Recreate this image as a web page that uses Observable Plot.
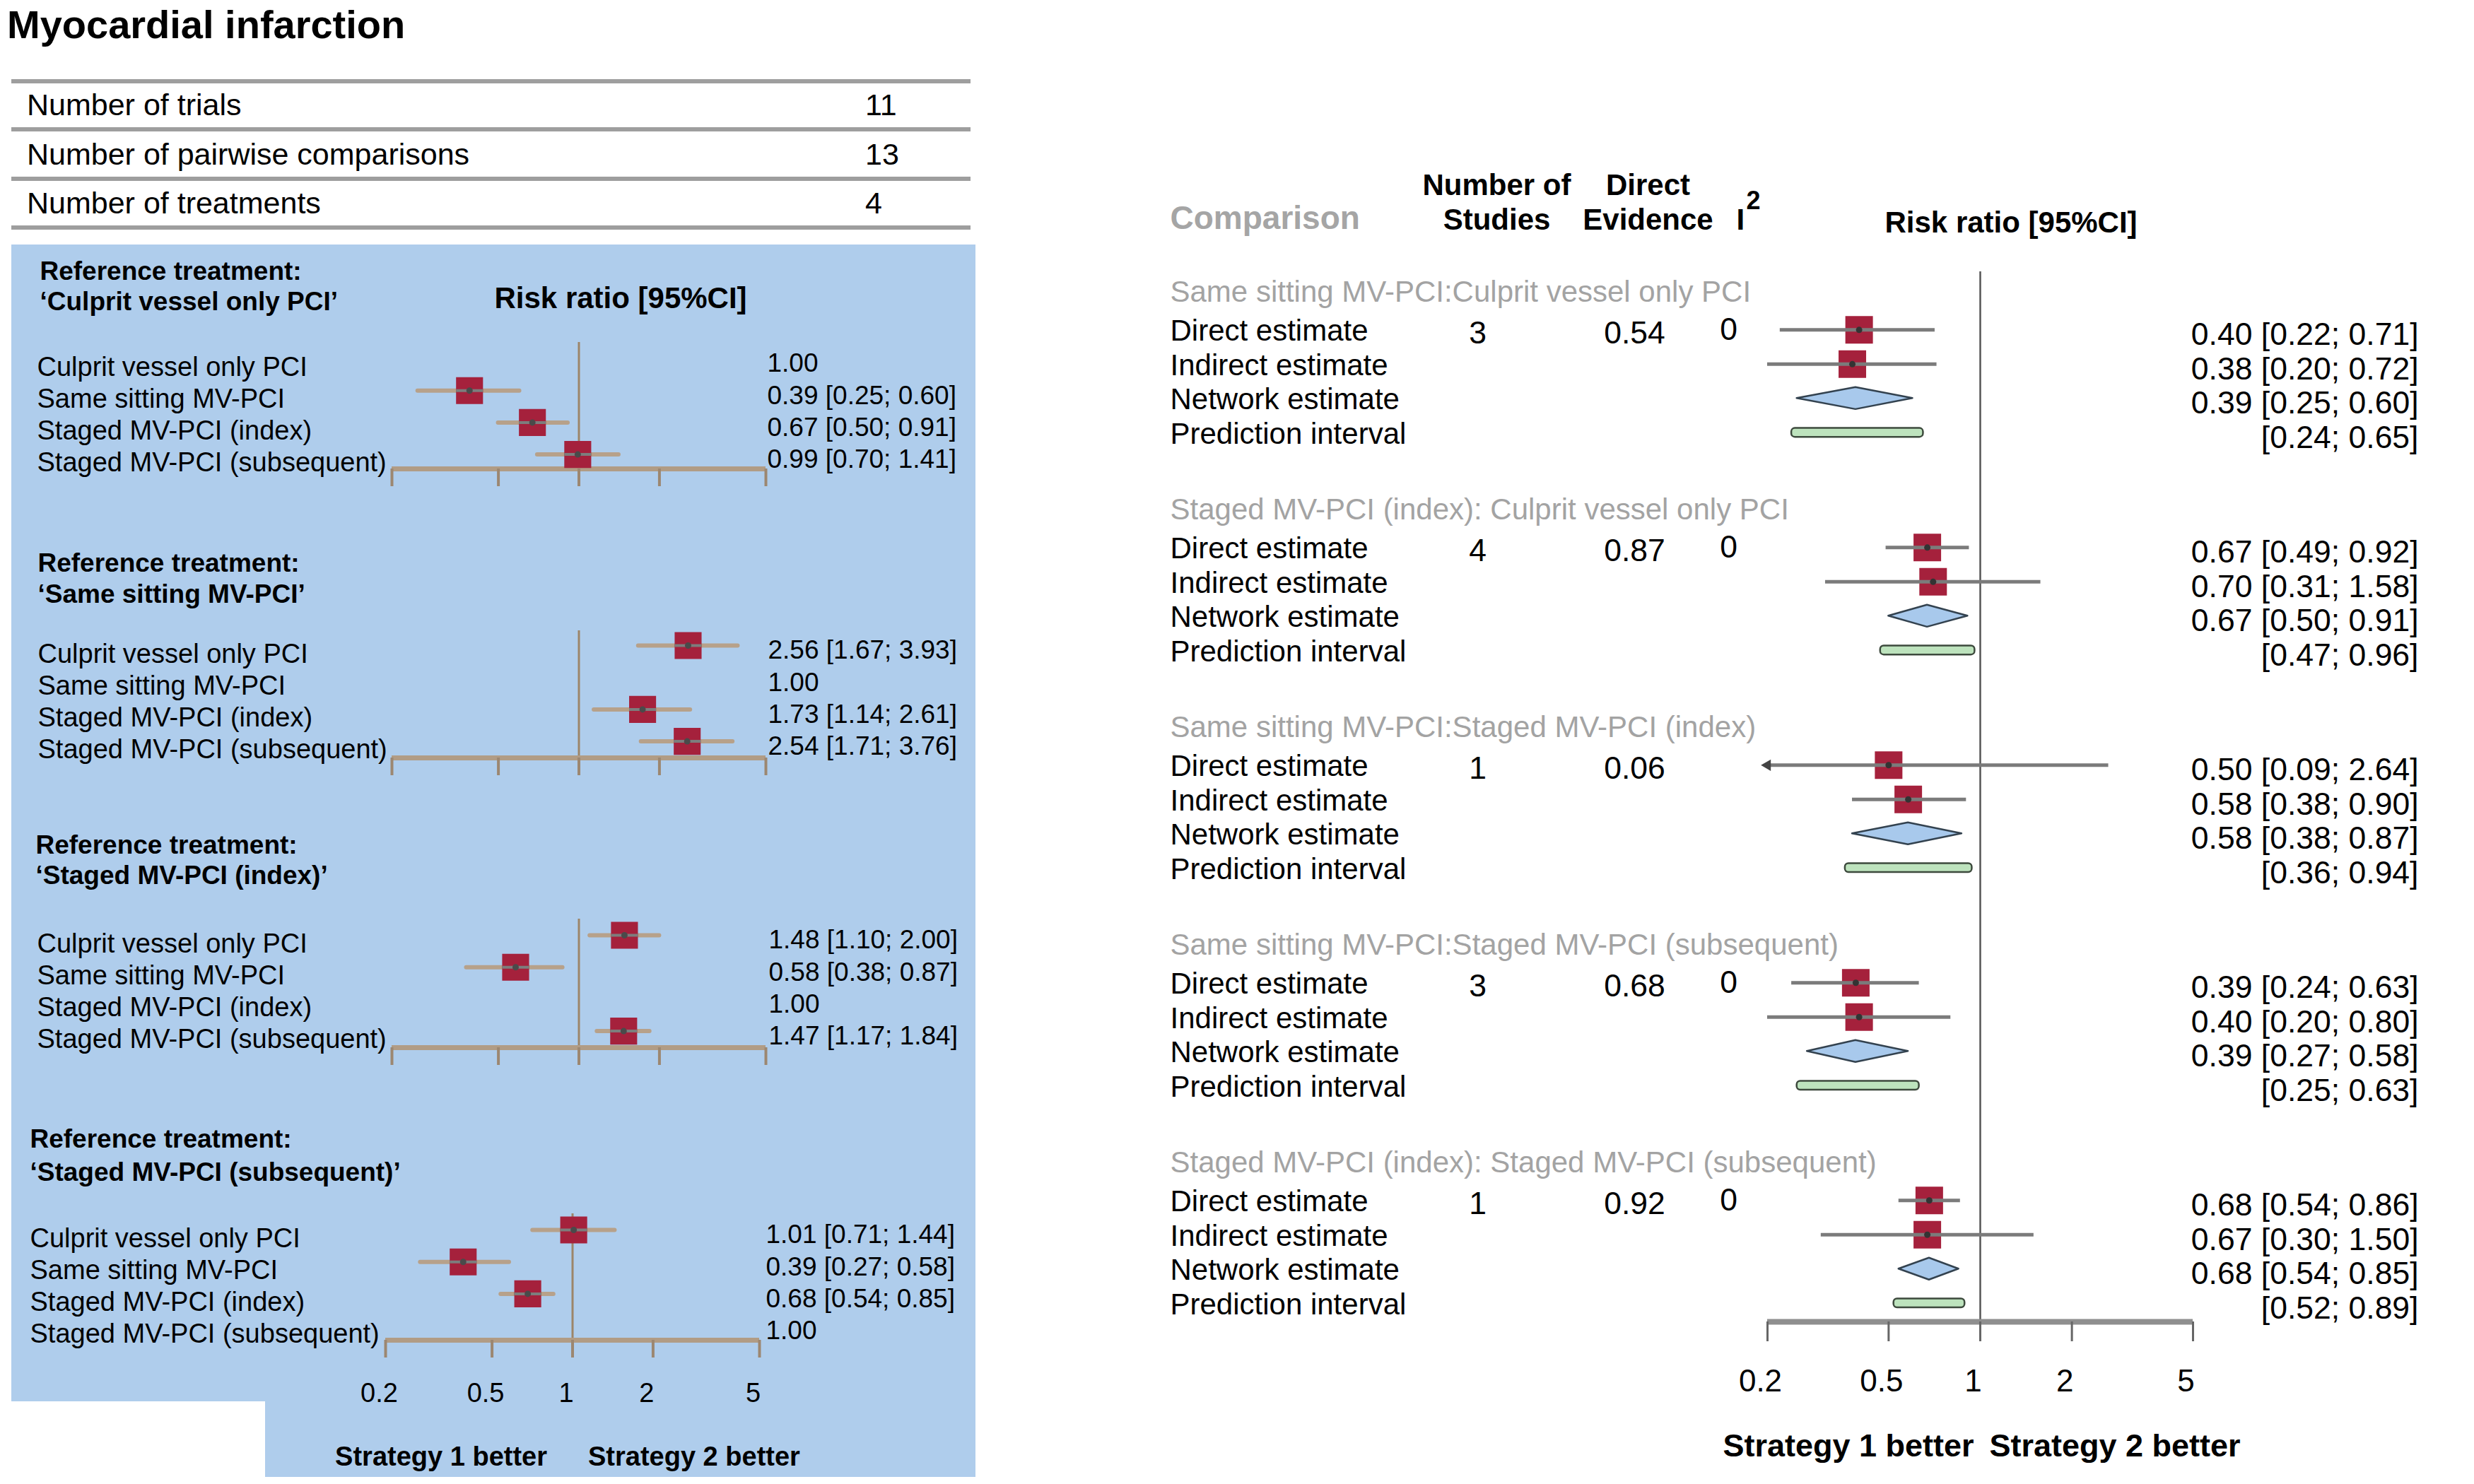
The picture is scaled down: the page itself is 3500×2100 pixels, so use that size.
<!DOCTYPE html>
<html>
<head>
<meta charset="utf-8">
<script src="https://cdn.jsdelivr.net/npm/d3@7"></script>
<script src="https://cdn.jsdelivr.net/npm/@observablehq/plot@0.6"></script>
<style>
html,body{margin:0;padding:0;background:#fff;}
#root{position:relative;width:3500px;height:2100px;overflow:hidden;background:#fff;}
#root svg{position:absolute;left:0;top:0;}
</style>
</head>
<body>
<div id="root"></div>
<script>
// ---------------- DATA ----------------
const chartTitle = "Myocardial infarction";
const summaryLabels = ["Number of trials", "Number of pairwise comparisons", "Number of treatments"];
const summaryValues = [11, 13, 4];

const treatments = ["Culprit vessel only PCI", "Same sitting MV-PCI", "Staged MV-PCI (index)", "Staged MV-PCI (subsequent)"];

// league panels: risk ratio of each treatment vs the reference treatment
const refCulpritRR    = [1.00, 0.39, 0.67, 0.99];
const refCulpritLower = [null, 0.25, 0.50, 0.70];
const refCulpritUpper = [null, 0.60, 0.91, 1.41];

const refSameRR    = [2.56, 1.00, 1.73, 2.54];
const refSameLower = [1.67, null, 1.14, 1.71];
const refSameUpper = [3.93, null, 2.61, 3.76];

const refIndexRR    = [1.48, 0.58, 1.00, 1.47];
const refIndexLower = [1.10, 0.38, null, 1.17];
const refIndexUpper = [2.00, 0.87, null, 1.84];

const refSubsRR    = [1.01, 0.39, 0.68, 1.00];
const refSubsLower = [0.71, 0.27, 0.54, null];
const refSubsUpper = [1.44, 0.58, 0.85, null];

// split (direct / indirect / network) forest plot
const comparisons = [
  "Same sitting MV-PCI:Culprit vessel only PCI",
  "Staged MV-PCI (index): Culprit vessel only PCI",
  "Same sitting MV-PCI:Staged MV-PCI (index)",
  "Same sitting MV-PCI:Staged MV-PCI (subsequent)",
  "Staged MV-PCI (index): Staged MV-PCI (subsequent)"
];
const nStudies = [3, 4, 1, 3, 1];
const directEvidence = [0.54, 0.87, 0.06, 0.68, 0.92];
const i2Values = [0, 0, null, 0, 0];

const directRR    = [0.40, 0.67, 0.50, 0.39, 0.68];
const directLower = [0.22, 0.49, 0.09, 0.24, 0.54];
const directUpper = [0.71, 0.92, 2.64, 0.63, 0.86];

const indirectRR    = [0.38, 0.70, 0.58, 0.40, 0.67];
const indirectLower = [0.20, 0.31, 0.38, 0.20, 0.30];
const indirectUpper = [0.72, 1.58, 0.90, 0.80, 1.50];

const networkRR    = [0.39, 0.67, 0.58, 0.39, 0.68];
const networkLower = [0.25, 0.50, 0.38, 0.27, 0.54];
const networkUpper = [0.60, 0.91, 0.87, 0.58, 0.85];

const predLower = [0.24, 0.47, 0.36, 0.25, 0.52];
const predUpper = [0.65, 0.96, 0.94, 0.63, 0.89];

const estimateTypes = ["Direct estimate", "Indirect estimate", "Network estimate", "Prediction interval"];
const axisTicks = [0.2, 0.5, 1, 2, 5];
const favourLabels = ["Strategy 1 better", "Strategy 2 better"];

// ---------------- RENDER ----------------
const W = 3500, H = 2100;
const FONT = "'Liberation Sans', Arial, Helvetica, sans-serif";
const RED = "#a5213c";
const fmt = d3.format(".2f");
const root = document.getElementById("root");

function addBox(left, top, width, height, color) {
  const d = document.createElement("div");
  d.style.cssText = `position:absolute;left:${left}px;top:${top}px;width:${width}px;height:${height}px;background:${color};`;
  root.appendChild(d);
}
function addText(str, x, baseline, size, weight = 400, color = "#000") {
  const d = document.createElement("div");
  d.textContent = str;
  d.style.cssText = `position:absolute;white-space:nowrap;font-family:${FONT};font-size:${size}px;font-weight:${weight};color:${color};line-height:1;top:${baseline - 0.8465 * size}px;left:${x}px;`;
  root.appendChild(d);
}

// title + summary table
addText(chartTitle, 10, 54, 56, 700);
[115, 183, 253, 322].forEach(y => addBox(16, y - 3, 1357, 6, "#9e9e9e"));
const tableBase = [163, 233, 302];
summaryLabels.forEach((s, i) => {
  addText(s, 38, tableBase[i], 43);
  addText(String(summaryValues[i]), 1224, tableBase[i], 43);
});

// blue background of the league panels
addBox(16, 346, 1364, 1637, "#afcdec");
addBox(375, 1983, 1005, 107, "#afcdec");

const barSymbol = {
  draw(context, size) {
    const w = Math.sqrt(size) / 2;
    context.moveTo(-w, 0);
    context.lineTo(w, 0);
  }
};

function mount(marks, xRange, yDomain, yRange) {
  const svg = Plot.plot({
    width: W, height: H,
    marginTop: 0, marginRight: 0, marginBottom: 0, marginLeft: 0,
    x: {type: "log", domain: [0.2, 5], range: xRange, axis: null},
    y: {type: "linear", domain: yDomain, range: yRange, axis: null},
    style: {background: "transparent", fontFamily: FONT, overflow: "visible"},
    marks
  });
  root.appendChild(svg);
}

// ----- left: league panels -----
const leagueRR = [refCulpritRR, refSameRR, refIndexRR, refSubsRR];
const leagueLower = [refCulpritLower, refSameLower, refIndexLower, refSubsLower];
const leagueUpper = [refCulpritUpper, refSameUpper, refIndexUpper, refSubsUpper];

const leftLayout = [
  {h1: 395,  h2: 438,  row0: 507,  axis: 663,  vTop: 484,  x0: 554, x1: 1083, labelX: 52, hdrX: 56, valX: 1085},
  {h1: 808,  h2: 852,  row0: 913,  axis: 1072, vTop: 892,  x0: 554, x1: 1083, labelX: 53, hdrX: 53, valX: 1086},
  {h1: 1207, h2: 1250, row0: 1323, axis: 1482, vTop: 1300, x0: 554, x1: 1083, labelX: 52, hdrX: 50, valX: 1087},
  {h1: 1623, h2: 1670, row0: 1740, axis: 1896, vTop: 1717, x0: 545, x1: 1074, labelX: 42, hdrX: 42, valX: 1083}
];
const LP = 45.2, LFS = 38, LVFS = 37;

leftLayout.forEach((L, k) => {
  const idx = px => (px - L.row0) / LP;
  const tb = (base, fs) => idx(base - 0.32 * fs);
  const rows = treatments.map((t, i) => ({t, i, rr: leagueRR[k][i], lo: leagueLower[k][i], hi: leagueUpper[k][i]}));
  const est = rows.filter(d => d.lo != null);
  const marks = [
    Plot.ruleX([1], {y1: idx(L.vTop), y2: idx(L.axis), stroke: "#9c8569", strokeWidth: 3}),
    Plot.ruleY([idx(L.axis)], {x1: 0.2, x2: 5, stroke: "#b19c85", strokeWidth: 7}),
    Plot.ruleX(axisTicks, {y1: idx(L.axis), y2: idx(L.axis + 25), stroke: "#9c8771", strokeWidth: 4}),
    Plot.ruleY(est, {y: "i", x1: "lo", x2: "hi", stroke: "#b7a18a", strokeWidth: 6, strokeLinecap: "round"}),
    Plot.dot(est, {x: "rr", y: "i", symbol: "square", r: 21.5, fill: RED}),
    Plot.dot(est, {x: "rr", y: "i", symbol: barSymbol, r: 21.5, stroke: "#7d7d7d", strokeWidth: 4, fill: "none"}),
    Plot.dot(est, {x: "rr", y: "i", r: 4.5, fill: "#4a4a4a"}),
    Plot.text(rows, {y: "i", text: "t", frameAnchor: "left", dx: L.labelX, dy: 12, textAnchor: "start", fontSize: LFS, fill: "#000"}),
    Plot.text(rows, {y: "i", text: d => d.lo == null ? fmt(d.rr) : `${fmt(d.rr)} [${fmt(d.lo)}; ${fmt(d.hi)}]`,
      frameAnchor: "left", dx: L.valX, dy: 7, textAnchor: "start", fontSize: LVFS, fill: "#000"}),
    Plot.text(["Reference treatment:"], {y: tb(L.h1, 37), text: d => d, frameAnchor: "left", dx: L.hdrX,
      textAnchor: "start", fontSize: 37, fontWeight: "bold", fill: "#000"}),
    Plot.text([`\u2018${treatments[k]}\u2019`], {y: tb(L.h2, 37), text: d => d, frameAnchor: "left", dx: L.hdrX,
      textAnchor: "start", fontSize: 37, fontWeight: "bold", fill: "#000"})
  ];
  if (k === 0) {
    marks.push(Plot.text(["Risk ratio [95%CI]"], {y: tb(435, 42), text: d => d, frameAnchor: "left", dx: 699,
      textAnchor: "start", fontSize: 42, fontWeight: "bold", fill: "#000"}));
  }
  if (k === 3) {
    marks.push(
      Plot.text(axisTicks, {x: d => d, y: tb(1983, LFS), text: d => String(d), dx: -9, fontSize: LFS, fill: "#000"}),
      Plot.text([favourLabels[0]], {x: 1, y: tb(2073, LFS), text: d => d, textAnchor: "end", dx: -36,
        fontSize: LFS, fontWeight: "bold", fill: "#000"}),
      Plot.text([favourLabels[1]], {x: 1, y: tb(2073, LFS), text: d => d, textAnchor: "start", dx: 22,
        fontSize: LFS, fontWeight: "bold", fill: "#000"})
    );
  }
  mount(marks, [L.x0, L.x1], [0, 3], [L.row0, L.row0 + 3 * LP]);
});

// ----- right: split forest plot -----
const R0 = 413, RU = 48.5, RFS = 42, RVFS = 44.5;
const GS = 6.35, HG = 1.1;             // group stride and header gap (row units)
const ry = px => (px - R0) / RU;
const rtb = (base, fs) => ry(base - 0.32 * fs);
const rowY = (g, r) => g * GS + (r === 0 ? 0 : HG + r - 1);

const groups = comparisons.map((c, g) => ({g, c, y: rowY(g, 0)}));
const ciRows = [];
comparisons.forEach((c, g) => {
  ciRows.push({g, y: rowY(g, 1), rr: directRR[g], lo: directLower[g], hi: directUpper[g]});
  ciRows.push({g, y: rowY(g, 2), rr: indirectRR[g], lo: indirectLower[g], hi: indirectUpper[g]});
});
const netRows = comparisons.map((c, g) => ({g, y: rowY(g, 3), rr: networkRR[g], lo: networkLower[g], hi: networkUpper[g]}));
const piRows = comparisons.map((c, g) => ({g, y: rowY(g, 4), lo: predLower[g], hi: predUpper[g]}));
const labelRows = comparisons.flatMap((c, g) => estimateTypes.map((t, r) => ({g, y: rowY(g, r + 1), t})));
const valueRows = [
  ...ciRows.map(d => ({y: d.y, s: `${fmt(d.rr)} [${fmt(d.lo)}; ${fmt(d.hi)}]`})),
  ...netRows.map(d => ({y: d.y, s: `${fmt(d.rr)} [${fmt(d.lo)}; ${fmt(d.hi)}]`})),
  ...piRows.map(d => ({y: d.y, s: `[${fmt(d.lo)}; ${fmt(d.hi)}]`}))
];
const diamondPts = netRows.flatMap(d => [
  {g: d.g, x: d.lo, y1: d.y, y2: d.y},
  {g: d.g, x: d.rr, y1: d.y - 0.32, y2: d.y + 0.32},
  {g: d.g, x: d.hi, y1: d.y, y2: d.y}
]);
const clipped = ciRows.filter(d => d.lo < 0.2);
const axisRY = ry(1870);
const yMax = rowY(4, 4);

const rightMarks = [
  Plot.ruleX([1], {y1: ry(384), y2: axisRY, stroke: "#555", strokeWidth: 2.5}),
  Plot.ruleY([axisRY], {x1: 0.2, x2: 5, stroke: "#8f8f8f", strokeWidth: 8}),
  Plot.ruleX(axisTicks, {y1: axisRY, y2: ry(1898), stroke: "#666", strokeWidth: 3}),
  Plot.dot(ciRows, {x: "rr", y: "y", symbol: "square", r: 22, fill: RED}),
  Plot.ruleY(ciRows, {y: "y", x1: d => Math.max(d.lo, 0.2), x2: d => Math.min(d.hi, 5), stroke: "#7b7b7b", strokeWidth: 5}),
  Plot.dot(clipped, {x: () => 0.2, y: "y", symbol: "triangle", rotate: -90, r: 6, fill: "#444"}),
  Plot.dot(ciRows, {x: "rr", y: "y", r: 4.5, fill: "#333"}),
  Plot.areaY(diamondPts, {x: "x", y1: "y1", y2: "y2", z: "g", fill: "#a8c9ec", stroke: "#33424f", strokeWidth: 2.5}),
  Plot.rect(piRows, {x1: "lo", x2: "hi", y1: d => d.y - 0.13, y2: d => d.y + 0.13, fill: "#bde3bd", stroke: "#3d4a3d", strokeWidth: 2.5, rx: 5}),
  // group headers and row labels
  Plot.text(groups, {y: "y", text: "c", frameAnchor: "left", dx: 1655, dy: 0, textAnchor: "start", fontSize: RFS, fill: "#a3a3a3"}),
  Plot.text(labelRows, {y: "y", text: "t", frameAnchor: "left", dx: 1655, dy: 2, textAnchor: "start", fontSize: RFS, fill: "#000"}),
  // columns
  Plot.text(groups, {y: d => rowY(d.g, 1), text: d => String(nStudies[d.g]), frameAnchor: "left", dx: 2090, dy: 5, textAnchor: "middle", fontSize: RVFS, fill: "#000"}),
  Plot.text(groups, {y: d => rowY(d.g, 1), text: d => fmt(directEvidence[d.g]), frameAnchor: "left", dx: 2312, dy: 5, textAnchor: "middle", fontSize: RVFS, fill: "#000"}),
  Plot.text(groups.filter(d => i2Values[d.g] != null), {y: d => rowY(d.g, 1), text: d => String(i2Values[d.g]), frameAnchor: "left", dx: 2445, dy: 0, textAnchor: "middle", fontSize: RVFS, fill: "#000"}),
  Plot.text(valueRows, {y: "y", text: "s", frameAnchor: "right", dx: -79, dy: 7, textAnchor: "end", fontSize: RVFS, fill: "#000"}),
  // column headers
  Plot.text(["Comparison"], {y: rtb(323, 46), text: d => d, frameAnchor: "left", dx: 1655, textAnchor: "start", fontSize: 46, fontWeight: "bold", fill: "#a5a5a5"}),
  Plot.text(["Number of"], {y: rtb(275, 42), text: d => d, frameAnchor: "left", dx: 2117, textAnchor: "middle", fontSize: 42, fontWeight: "bold", fill: "#000"}),
  Plot.text(["Studies"], {y: rtb(324, 42), text: d => d, frameAnchor: "left", dx: 2117, textAnchor: "middle", fontSize: 42, fontWeight: "bold", fill: "#000"}),
  Plot.text(["Direct"], {y: rtb(275, 42), text: d => d, frameAnchor: "left", dx: 2331, textAnchor: "middle", fontSize: 42, fontWeight: "bold", fill: "#000"}),
  Plot.text(["Evidence"], {y: rtb(324, 42), text: d => d, frameAnchor: "left", dx: 2331, textAnchor: "middle", fontSize: 42, fontWeight: "bold", fill: "#000"}),
  Plot.text(["I"], {y: rtb(324, 42), text: d => d, frameAnchor: "left", dx: 2456, textAnchor: "start", fontSize: 42, fontWeight: "bold", fill: "#000"}),
  Plot.text(["2"], {y: rtb(295, 36), text: d => d, frameAnchor: "left", dx: 2470, textAnchor: "start", fontSize: 36, fontWeight: "bold", fill: "#000"}),
  Plot.text(["Risk ratio [95%CI]"], {y: rtb(328, 42), text: d => d, frameAnchor: "left", dx: 2666, textAnchor: "start", fontSize: 42, fontWeight: "bold", fill: "#000"}),
  // axis labels
  Plot.text(axisTicks, {x: d => d, y: rtb(1968, 44), text: d => String(d), dx: -10, fontSize: 44, fill: "#000"}),
  Plot.text([favourLabels[0]], {x: 1, y: rtb(2060, 45), text: d => d, textAnchor: "end", dx: -9, fontSize: 45, fontWeight: "bold", fill: "#000"}),
  Plot.text([favourLabels[1]], {x: 1, y: rtb(2060, 45), text: d => d, textAnchor: "start", dx: 13, fontSize: 45, fontWeight: "bold", fill: "#000"})
];
mount(rightMarks, [2500, 3102], [0, yMax], [R0, R0 + yMax * RU]);
</script>
</body>
</html>
